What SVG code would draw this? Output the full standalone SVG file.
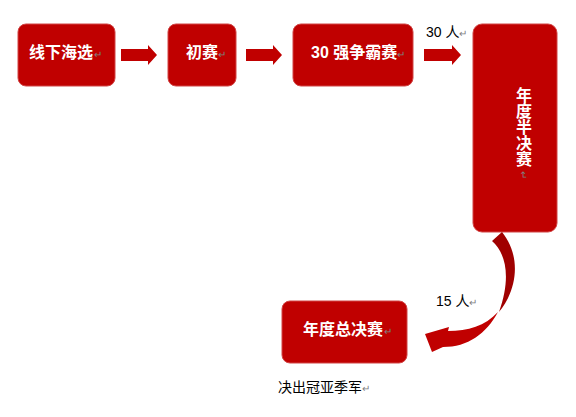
<svg xmlns="http://www.w3.org/2000/svg" width="576" height="417" viewBox="0 0 576 417">
<style>
.box{fill:#C00000;stroke:#D14545;stroke-width:1}
.lbl{font-family:"Liberation Sans","Noto Sans CJK SC",sans-serif;font-weight:bold;font-size:16px;fill:#fff}
.txt{font-family:"Liberation Sans","Noto Sans CJK SC",sans-serif;font-size:14px;fill:#000}
.pm{font-family:"Liberation Sans","Noto Sans CJK SC",sans-serif;font-size:10px;fill:#808080}
.arr{fill:#C00000}
</style>
<rect width="576" height="417" fill="#fff"/>
<g id="n1">
<rect class="box" x="18" y="24" width="97" height="62" rx="8"/>
<text class="lbl" x="29" y="58">线下海选</text><text class="pm" x="94" y="58">↵</text>
</g>
<g id="n2">
<rect class="box" x="168" y="24" width="68" height="62" rx="8"/>
<text class="lbl" x="186" y="58">初赛</text><text class="pm" x="218" y="58">↵</text>
</g>
<g id="n3">
<rect class="box" x="293" y="24" width="120" height="62" rx="8"/>
<text class="lbl" x="311" y="58">30 强争霸赛</text><text class="pm" x="397" y="58">↵</text>
</g>
<g id="n4">
<rect class="box" x="473" y="24" width="84" height="208" rx="9"/>
<g class="lbl" text-anchor="middle">
<text x="524" y="101">年</text><text x="524" y="117">度</text><text x="524" y="133">半</text><text x="524" y="149">决</text><text x="524" y="165">赛</text>
</g>
<text class="pm" x="0" y="0" transform="translate(520,171) rotate(90)">↵</text>
</g>
<g id="n5">
<rect class="box" x="282" y="301" width="125" height="62" rx="8"/>
<text class="lbl" x="303" y="335">年度总决赛</text><text class="pm" x="384" y="335">↵</text>
</g>
<g id="labels">
<text class="txt" x="426" y="37">30 人</text><text class="pm" x="459" y="37">↵</text>
<text class="txt" x="436" y="306">15 人</text><text class="pm" x="469" y="306">↵</text>
<text class="txt" x="278" y="392">决出冠亚季军</text><text class="pm" x="362" y="392">↵</text>
</g>
<g id="connectors">
<path class="arr" d="M121,49 H148 V45 L157,55 L148,65 V61 H121 Z"/>
<path class="arr" d="M246,49 H273 V45 L282,55 L273,65 V61 H246 Z"/>
<path class="arr" d="M424,49 H452 V45 L461,55 L452,65 V61 H424 Z"/>
<path fill="#A00000" d="M492,241 C505,252 512,276 499,312 C517,290 522,257 502,232 Z"/>
<path class="arr" d="M498,312 C486,334 468,347 443,347 L432,352 L425,334 L449,327 L448,331 C468,331 485,326 498,312 Z"/>
</g>
</svg>
